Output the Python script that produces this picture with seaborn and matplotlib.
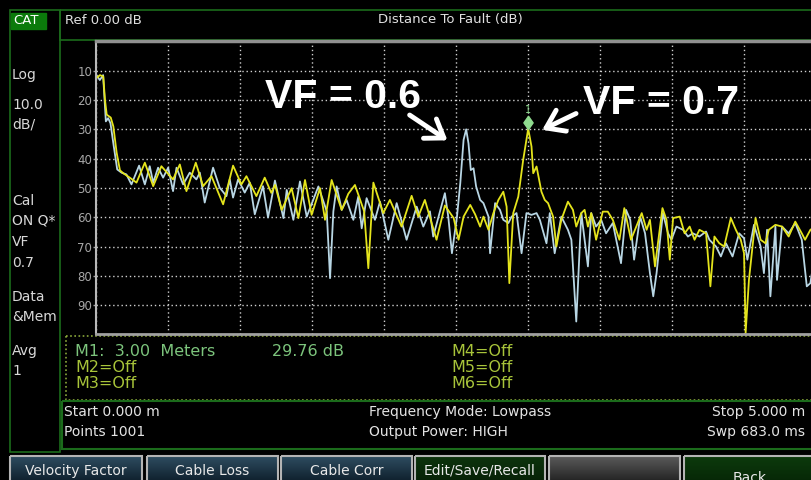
import numpy as np
import pandas as pd
import matplotlib
matplotlib.use("Agg")
import matplotlib.pyplot as plt
import seaborn as sns
from matplotlib.path import Path
from matplotlib.patches import Rectangle, Polygon
from matplotlib.ticker import MultipleLocator

# trace "Data" (yellow, VF = 0.7): distance in m, return loss in dB
dist_data = [0.000, 0.024, 0.047, 0.059, 0.071, 0.099, 0.117, 0.140, 0.163, 0.186,
             0.231, 0.278, 0.336, 0.394, 0.451, 0.532, 0.579, 0.625, 0.690, 0.741,
             0.799, 0.880, 0.949, 1.007, 1.042, 1.111, 1.169, 1.215, 1.241, 1.287,
             1.356, 1.403, 1.449, 1.495, 1.553, 1.588, 1.634, 1.704, 1.750, 1.796,
             1.860, 1.889, 1.924, 1.993, 2.039, 2.120, 2.190, 2.236, 2.282, 2.363,
             2.421, 2.482, 2.516, 2.551, 2.597, 2.631, 2.666, 2.689, 2.724, 2.758,
             2.793, 2.827, 2.850, 2.869, 2.896, 2.931, 2.965, 3.000, 3.023, 3.035,
             3.058, 3.092, 3.115, 3.138, 3.173, 3.196, 3.230, 3.276, 3.311, 3.334,
             3.369, 3.392, 3.415, 3.438, 3.472, 3.518, 3.553, 3.588, 3.634, 3.668,
             3.714, 3.789, 3.823, 3.846, 3.881, 3.933, 3.961, 3.984, 4.007, 4.053,
             4.087, 4.122, 4.156, 4.190, 4.236, 4.266, 4.294, 4.328, 4.362, 4.408,
             4.443, 4.477, 4.500, 4.511, 4.534, 4.580, 4.615, 4.649, 4.672, 4.718,
             4.764, 4.810, 4.856, 4.901, 4.924, 4.961, 5.000]
db_data = [12.5, 11.5, 12.0, 20.0, 25.0, 26.0, 29.0, 38.0, 44.0, 45.0,
           46.5, 48.2, 41.4, 49.4, 42.6, 47.1, 42.0, 51.1, 41.4, 49.4,
           46.0, 55.6, 42.4, 48.8, 46.0, 52.8, 46.5, 51.7, 49.0, 57.5,
           50.1, 60.3, 47.3, 59.2, 50.1, 60.9, 47.3, 57.5, 52.0, 49.0,
           58.0, 77.4, 48.2, 58.6, 54.1, 63.2, 52.7, 59.8, 54.1, 67.7,
           56.0, 60.3, 67.7, 59.8, 55.8, 59.0, 63.2, 59.8, 64.3, 58.6,
           54.1, 51.3, 56.4, 82.5, 58.6, 53.0, 40.5, 29.8, 35.9, 45.0,
           42.7, 51.3, 54.1, 55.2, 59.8, 70.0, 60.9, 54.7, 57.5, 63.2,
           58.6, 57.5, 63.2, 58.6, 67.7, 58.1, 58.1, 60.9, 67.7, 56.9,
           67.7, 58.6, 64.3, 60.9, 76.8, 56.9, 60.9, 74.5, 60.3, 59.8,
           65.5, 63.2, 67.7, 64.3, 65.5, 83.6, 66.6, 68.9, 70.0, 60.3,
           64.3, 67.7, 72.3, 99.5, 81.4, 60.3, 67.7, 68.9, 64.3, 62.6,
           63.2, 66.6, 61.5, 65.5, 67.7, 64.3, 63.0]

# trace "Mem" (light blue, VF = 0.6)
dist_mem = [0.000, 0.023, 0.046, 0.065, 0.081, 0.097, 0.120, 0.144, 0.174, 0.208,
            0.243, 0.296, 0.336, 0.370, 0.394, 0.428, 0.463, 0.498, 0.532, 0.556,
            0.602, 0.648, 0.694, 0.718, 0.752, 0.810, 0.856, 0.903, 0.926, 0.949,
            0.984, 1.030, 1.065, 1.100, 1.157, 1.192, 1.240, 1.299, 1.322, 1.368,
            1.414, 1.461, 1.542, 1.600, 1.623, 1.646, 1.669, 1.704, 1.738, 1.785,
            1.819, 1.843, 1.877, 1.935, 1.970, 2.028, 2.086, 2.155, 2.225, 2.271,
            2.317, 2.340, 2.421, 2.445, 2.470, 2.505, 2.528, 2.551, 2.569, 2.585,
            2.601, 2.620, 2.638, 2.666, 2.689, 2.724, 2.735, 2.770, 2.804, 2.827,
            2.862, 2.885, 2.919, 2.954, 2.988, 3.023, 3.058, 3.081, 3.127, 3.150,
            3.184, 3.230, 3.276, 3.300, 3.334, 3.369, 3.415, 3.438, 3.472, 3.507,
            3.541, 3.588, 3.645, 3.680, 3.709, 3.736, 3.778, 3.812, 3.846, 3.869,
            3.892, 3.936, 3.972, 3.995, 4.030, 4.076, 4.110, 4.144, 4.190, 4.236,
            4.259, 4.305, 4.339, 4.374, 4.420, 4.466, 4.500, 4.523, 4.569, 4.615,
            4.638, 4.660, 4.683, 4.718, 4.729, 4.764, 4.810, 4.856, 4.901, 4.936,
            4.961, 5.000]
db_mem = [11.5, 13.2, 11.5, 27.3, 26.2, 27.9, 35.8, 43.7, 44.8, 45.4,
          48.8, 42.4, 48.8, 42.6, 48.2, 43.1, 46.5, 43.1, 51.1, 43.1,
          48.8, 44.8, 47.1, 44.8, 55.0, 43.1, 49.9, 52.8, 47.1, 53.3,
          47.1, 51.6, 48.2, 59.0, 49.4, 60.1, 47.5, 60.3, 50.7, 60.9,
          47.8, 59.8, 49.5, 58.0, 80.8, 58.0, 49.5, 57.5, 54.1, 60.9,
          53.0, 63.8, 53.5, 60.9, 54.7, 67.7, 55.2, 67.7, 56.4, 63.2,
          58.0, 66.6, 51.8, 60.0, 72.3, 59.8, 48.4, 33.6, 30.0, 34.8,
          43.9, 43.3, 49.5, 54.1, 55.2, 59.8, 72.3, 55.2, 57.5, 60.9,
          62.0, 59.8, 58.6, 72.3, 58.6, 59.2, 58.6, 60.9, 68.9, 58.6,
          72.3, 59.8, 64.3, 67.7, 95.6, 58.6, 76.8, 58.6, 63.2, 60.9,
          65.5, 62.0, 75.7, 57.5, 60.9, 74.5, 59.8, 65.5, 79.1, 87.0,
          79.1, 58.6, 65.5, 67.7, 63.2, 64.3, 66.6, 65.5, 66.6, 64.9,
          67.7, 70.0, 73.4, 68.9, 73.4, 65.5, 67.2, 74.5, 62.6, 70.0,
          79.1, 64.3, 87.0, 63.2, 81.4, 63.2, 65.5, 62.0, 67.7, 83.6,
          82.5, 70.0]

y_ticks = [10, 20, 30, 40, 50, 60, 70, 80, 90]
marker_dist = 3.00
marker_db = 29.76

side_labels = [("Log", 75), ("10.0", 105), ("dB/", 125), ("Cal", 201), ("ON Q*", 221),
               ("VF", 242), ("0.7", 263), ("Data", 297), ("&Mem", 317), ("Avg", 351), ("1", 371)]
softkeys = ["Velocity Factor", "Cable Loss", "Cable Corr", "Edit/Save/Recall", "", "Back"]

YEL = "#e4e41c"
BLU = "#b8d6e4"
GRN = "#1b6b1b"

sns.set_theme(style="dark", rc={"axes.facecolor": "black", "figure.facecolor": "black"})
plt.rcParams["font.family"] = ["DejaVu Sans"]

W, H = 812, 480
fig = plt.figure(figsize=(W / 100, H / 100), dpi=100, facecolor="black")

# background layer in pixel coordinates
bg = fig.add_axes([0, 0, 1, 1], zorder=0)
bg.set_xlim(0, W)
bg.set_ylim(H, 0)
bg.axis("off")
bg.set_facecolor("black")

# left panel and header
bg.add_patch(Rectangle((10.5, 10), 49.5, 442, fill=False, ec=GRN, lw=1.2))
bg.add_patch(Rectangle((60, 10), 760, 30, fill=False, ec=GRN, lw=1.2))
bg.add_patch(Rectangle((11, 13), 35, 16, color="#0b7a0b"))
bg.text(13, 21, "CAT", color="white", fontsize=9.5, va="center")
for s, y in side_labels:
    bg.text(12, y, s, color="#d8d8d8", fontsize=10, va="center")
bg.text(65, 20, "Ref 0.00 dB", color="#e0e0e0", fontsize=9.5, va="center")
bg.text(450, 20, "Distance To Fault (dB)", color="#e0e0e0", fontsize=9.5, va="center", ha="center")

# marker readout box
bg.add_patch(Rectangle((66, 336), 760, 64, fill=False, ec="#8aa83a", lw=1.2, ls=(0, (1, 1.5))))
bg.text(75, 352, "M1:  3.00  Meters", color="#7cc47c", fontsize=11.5, va="center")
bg.text(272, 352, "29.76 dB", color="#7cc47c", fontsize=11.5, va="center")
for i, lab in enumerate(["M2=Off", "M3=Off"]):
    bg.text(75, 368 + 15.5 * i, lab, color="#a8c43a", fontsize=11.5, va="center")
for i, lab in enumerate(["M4=Off", "M5=Off", "M6=Off"]):
    bg.text(451, 352 + 15.5 * i, lab, color="#a8c43a", fontsize=11.5, va="center")

# status box
bg.add_patch(Rectangle((62, 401), 760, 48, fill=False, ec=GRN, lw=1.5))
st = dict(color="#e4e4e4", fontsize=10, va="center")
bg.text(64, 412, "Start 0.000 m", **st)
bg.text(64, 432, "Points 1001", **st)
bg.text(369, 412, "Frequency Mode: Lowpass", **st)
bg.text(369, 432, "Output Power: HIGH", **st)
bg.text(805, 412, "Stop 5.000 m", ha="right", **st)
bg.text(805, 432, "Swp 683.0 ms", ha="right", **st)

# soft keys
key_x = [(10, 142), (147, 278), (281, 412), (415, 545), (549, 680), (684, 816)]
key_cols = [("#2e4c60", "#0c1c28"), ("#2e4c60", "#0c1c28"), ("#2e4c60", "#0c1c28"),
            ("#0d340d", "#072007"), ("#5a5a5a", "#1e1e1e"), ("#0c3a0c", "#062606")]
grad = np.linspace(0, 1, 32).reshape(-1, 1)
for (x0, x1), (c0, c1), lab in zip(key_x, key_cols, softkeys):
    cmap = matplotlib.colors.LinearSegmentedColormap.from_list("k", [c0, c1])
    bg.imshow(grad, extent=(x0, x1, 484, 456), cmap=cmap, aspect="auto", zorder=1)
    bg.add_patch(Rectangle((x0, 456), x1 - x0, 30, fill=False, ec="#b4b4b4", lw=1.5, zorder=2))
    if lab:
        ty = 478 if lab == "Back" else 471
        bg.text((x0 + x1) / 2, ty, lab, color="#e8e8e8", fontsize=10, ha="center", va="center", zorder=3)

# triangle at top-left of the graticule
bg.add_patch(Polygon([(96.5, 42), (111, 42), (96.5, 47.5)], color="#a8a8a8", zorder=5))

# main graticule
ax = fig.add_axes([96.5 / W, 1 - 334.4 / H, (816 - 96.5) / W, (334.4 - 41.4) / H], zorder=2)
ax.set_facecolor("black")

df_mem = pd.DataFrame({"Distance": dist_mem, "dB": db_mem})
df_data = pd.DataFrame({"Distance": dist_data, "dB": db_data})
sns.lineplot(data=df_mem, x="Distance", y="dB", color=BLU, lw=1.3, estimator=None, sort=False, ax=ax)
sns.lineplot(data=df_data, x="Distance", y="dB", color=YEL, lw=1.3, estimator=None, sort=False, ax=ax)

ax.set_xlim(0, 5)
ax.set_ylim(100, 0)
ax.xaxis.set_major_locator(MultipleLocator(0.5))
ax.set_yticks(y_ticks)
ax.set_yticklabels([str(v) for v in y_ticks])
ax.grid(True, color="#cfcfcf", ls=(0, (1, 2)), lw=1)
ax.tick_params(axis="x", length=0, labelbottom=False)
ax.tick_params(axis="y", length=2, width=1, color="#a0a0a0", pad=1, labelsize=8.5, labelcolor="#a8a8a8", left=True)
ax.set_xlabel("")
ax.set_ylabel("")
for side, col, lw in [("left", "#b8b8b8", 1.5), ("bottom", "#a0a0a0", 2), ("top", "#909090", 2.5)]:
    ax.spines[side].set_visible(True)
    ax.spines[side].set_color(col)
    ax.spines[side].set_linewidth(lw)
ax.spines["right"].set_visible(False)

# marker M1 (diamond sitting on the peak)
diamond = Path([(0, 0), (0.7, 1), (0, 2), (-0.7, 1), (0, 0)],
               [Path.MOVETO, Path.LINETO, Path.LINETO, Path.LINETO, Path.CLOSEPOLY])
ax.plot([marker_dist], [marker_db], marker=diamond, ms=19, color="#8fdc8f", ls="none", zorder=5)
ax.annotate("1", (marker_dist, marker_db), xytext=(0, 19), textcoords="offset pixels",
            color="#8fdc8f", fontsize=7, ha="center", va="center")

# VF annotations
big = dict(color="white", fontsize=29.5, fontweight="bold", family=["Liberation Sans", "DejaVu Sans"],
           ha="center", va="center", zorder=6)
ax.text(1.712, 19.0, "VF = 0.6", **big)
ax.text(3.924, 20.9, "VF = 0.7", **big)
arr = dict(arrowstyle="->,head_length=0.55,head_width=0.38", lw=3.5, color="white", mutation_scale=22)
ax.annotate("", xy=(2.455, 34.3), xytext=(2.160, 24.6), arrowprops=arr, zorder=6)
ax.annotate("", xy=(3.080, 30.6), xytext=(3.350, 24.2), arrowprops=arr, zorder=6)

fig.savefig("out.png", dpi=100, facecolor="black")
plt.close(fig)
